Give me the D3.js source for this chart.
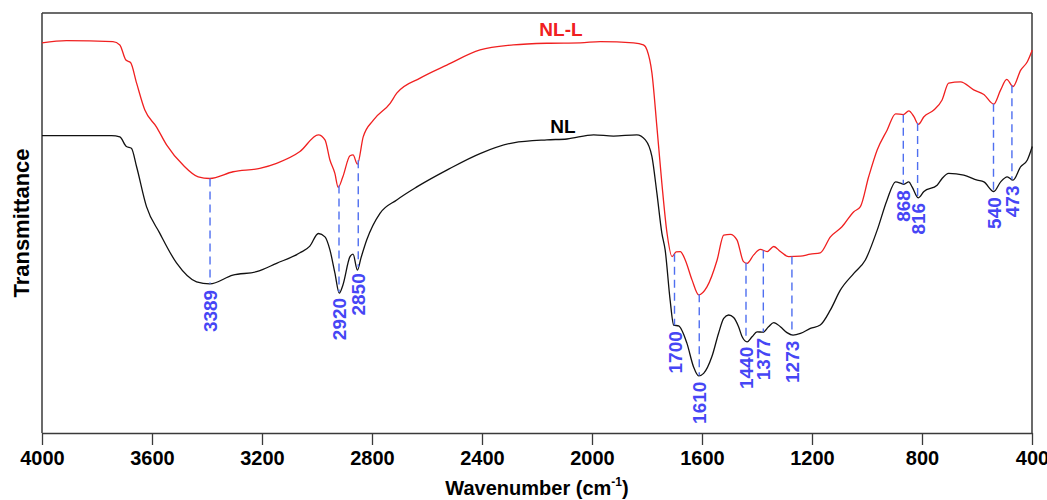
<!DOCTYPE html>
<html>
<head>
<meta charset="utf-8">
<script src="https://cdn.jsdelivr.net/npm/d3@7"></script>
<style>
  html, body { margin: 0; padding: 0; background: #fff; }
  svg { display: block; font-family: Arial, "Liberation Sans", sans-serif; }
</style>
</head>
<body>
<svg id="chart" width="1047" height="500"></svg>
<script>
// FTIR spectra of NL and NL-L (transmittance, offset traces)
const nlWavenumber = [4000,3747,3717,3693,3675,3656,3620,3572,3511,3438,3390,3306,3220,3147,3062,3026,2995,2971,2953,2935,2919,2906,2880,2869,2853,2840,2819,2771,2710,2637,2528,2405,2286,2164,2091,1994,1922,1837,1806,1782,1764,1746,1734,1716,1703,1685,1655,1631,1612,1594,1564,1540,1521,1503,1485,1467,1454,1436,1418,1400,1378,1358,1339,1315,1291,1269,1242,1206,1170,1133,1097,1048,1006,963,927,896,878,866,848,836,814,793,745,727,703,648,599,575,539,514,490,469,441,417,399];
const nlValue = [70.8,70.8,70.5,68.2,67.8,63.4,53.9,47.6,40.5,36.0,35.5,37.6,38.4,40.4,42.9,44.5,47.5,46.7,43.6,38.1,33.3,35.2,42.0,42.6,38.8,41.7,46.0,52.3,55.5,58.6,62.6,66.6,69.1,69.8,70.0,71.0,70.7,71.0,69.8,65.8,57.1,47.6,43.6,31.7,25.7,25.5,21.4,15.8,13.6,14.2,18.2,23.7,27.3,28.1,27.5,25.3,22.9,21.7,22.9,24.1,24.0,25.3,26.3,25.3,23.9,23.3,23.7,24.9,25.7,29.3,34.0,38.0,41.2,48.3,55.5,59.8,59.5,59.2,59.8,58.6,56.0,57.5,59.0,60.6,61.8,61.4,60.2,59.8,57.5,59.8,61.0,60.2,63.4,65.0,68.2];

const nllWavenumber = [4000,3911,3742,3717,3695,3678,3656,3626,3584,3547,3487,3432,3390,3305,3208,3147,3062,2995,2971,2953,2935,2923,2906,2880,2869,2853,2832,2795,2734,2710,2625,2528,2407,2286,2164,2042,1970,1849,1813,1800,1782,1764,1746,1727,1709,1694,1679,1661,1636,1612,1582,1545,1521,1497,1473,1449,1436,1412,1388,1363,1339,1315,1285,1242,1206,1170,1133,1091,1048,1024,994,963,927,896,868,848,830,813,793,757,727,703,660,612,575,539,514,492,469,441,417,399];
const nllValue = [92.9,93.4,93.2,92.4,88.8,88.2,83.3,76.9,72.9,68.6,63.8,61.0,60.6,62.2,63.0,64.2,67.0,71.0,69.8,65.0,61.8,58.5,61.0,66.0,66.2,64.0,70.5,74.5,78.5,80.9,84.5,87.6,91.2,92.4,92.8,92.9,93.2,92.9,92.4,91.2,85.7,72.9,59.5,47.5,42.0,43.1,43.2,41.2,36.4,32.9,34.8,41.2,47.1,47.3,46.0,40.8,40.4,42.4,43.7,43.2,44.4,43.2,42.0,42.1,42.6,42.9,46.7,49.1,52.7,53.9,61.0,67.4,72.1,76.0,75.8,76.7,75.4,73.5,75.3,76.9,79.3,83.3,83.6,81.7,80.6,78.3,81.7,84.2,82.5,86.4,88.4,91.2];

// Assigned band positions (cm-1)
const peakPositions = [3389,2920,2850,1700,1610,1440,1377,1273,868,816,540,473];

// Axis ticks
const xTicks = [4000,3600,3200,2800,2400,2000,1600,1200,800,400];

const svg = d3.select("#chart");
const margin = {left: 42, right: 15, top: 13, bottom: 67};
const W = 1047, H = 500;

const x = d3.scaleLinear().domain([4000, 400]).range([margin.left, W - margin.right]);
const y = d3.scaleLinear().domain([0, 100]).range([H - margin.bottom, margin.top]);

const nl = nlWavenumber.map((w, i) => ({w, v: nlValue[i]}));
const nll = nllWavenumber.map((w, i) => ({w, v: nllValue[i]}));

const line = d3.line().x(d => x(d.w)).y(d => y(d.v)).curve(d3.curveMonotoneX);

// interpolate a trace's value at a wavenumber
function valueAt(data, w) {
  for (let i = 0; i < data.length - 1; i++) {
    const a = data[i], b = data[i + 1];
    if (w <= a.w && w >= b.w) {
      const t = (a.w - w) / (a.w - b.w);
      return a.v + t * (b.v - a.v);
    }
  }
  return data[data.length - 1].v;
}

// frame
const axisColor = "#3a3a3a";
svg.append("line").attr("x1", x(4000)).attr("x2", x(400)).attr("y1", y(100)).attr("y2", y(100))
  .attr("stroke", axisColor).attr("stroke-width", 1.5);
svg.append("line").attr("x1", x(4000)).attr("x2", x(4000)).attr("y1", y(100)).attr("y2", y(0))
  .attr("stroke", axisColor).attr("stroke-width", 1.5);
svg.append("line").attr("x1", x(400)).attr("x2", x(400)).attr("y1", y(100)).attr("y2", y(0))
  .attr("stroke", axisColor).attr("stroke-width", 1.5);

// bottom axis
const xAxis = d3.axisBottom(x).tickValues(xTicks).tickSize(12).tickSizeOuter(0).tickPadding(6)
  .tickFormat(d3.format("d"));
const gx = svg.append("g").attr("transform", `translate(0,${y(0)})`).call(xAxis);
gx.select(".domain").attr("stroke", axisColor).attr("stroke-width", 1.5);
gx.selectAll(".tick line").attr("stroke", axisColor).attr("stroke-width", 1.3);
gx.selectAll(".tick text").attr("fill", "#000").attr("font-size", 20).attr("font-weight", "bold")
  .attr("font-family", "Arial, 'Liberation Sans', sans-serif");

// axis titles
const xt = svg.append("text").attr("x", (x(4000) + x(400)) / 2).attr("y", 495)
  .attr("text-anchor", "middle").attr("font-size", 20).attr("font-weight", "bold").attr("fill", "#000");
xt.append("tspan").text("Wavenumber (cm");
xt.append("tspan").text("-1").attr("font-size", 12).attr("dy", -9);
xt.append("tspan").text(")").attr("dy", 9);

svg.append("text").attr("transform", `translate(29,${(y(0) + y(100)) / 2}) rotate(-90)`)
  .attr("text-anchor", "middle").attr("font-size", 22).attr("font-weight", "bold").attr("fill", "#000")
  .text("Transmittance");

// spectra
svg.append("path").datum(nl).attr("d", line).attr("fill", "none").attr("stroke", "#111").attr("stroke-width", 1.3);
svg.append("path").datum(nll).attr("d", line).attr("fill", "none").attr("stroke", "#f02020").attr("stroke-width", 1.3);

// band markers
const peaks = svg.append("g");
peakPositions.forEach(p => {
  const yTop = y(valueAt(nll, p));
  const yBot = y(valueAt(nl, p));
  peaks.append("line").attr("x1", x(p)).attr("x2", x(p)).attr("y1", yTop).attr("y2", yBot)
    .attr("stroke", "#4f6ff0").attr("stroke-width", 1.4).attr("stroke-dasharray", "8,5");
  peaks.append("text")
    .attr("transform", `translate(${x(p) + 7},${yBot + 6}) rotate(-90)`)
    .attr("text-anchor", "end").attr("font-size", 19).attr("font-weight", "bold").attr("fill", "#4646f5")
    .text(p);
});

// trace labels
svg.append("text").attr("x", 561).attr("y", 36).attr("text-anchor", "middle")
  .attr("font-size", 19).attr("font-weight", "bold").attr("fill", "#f02020").text("NL-L");
svg.append("text").attr("x", 563).attr("y", 133).attr("text-anchor", "middle")
  .attr("font-size", 19).attr("font-weight", "bold").attr("fill", "#000").text("NL");
</script>
</body>
</html>
